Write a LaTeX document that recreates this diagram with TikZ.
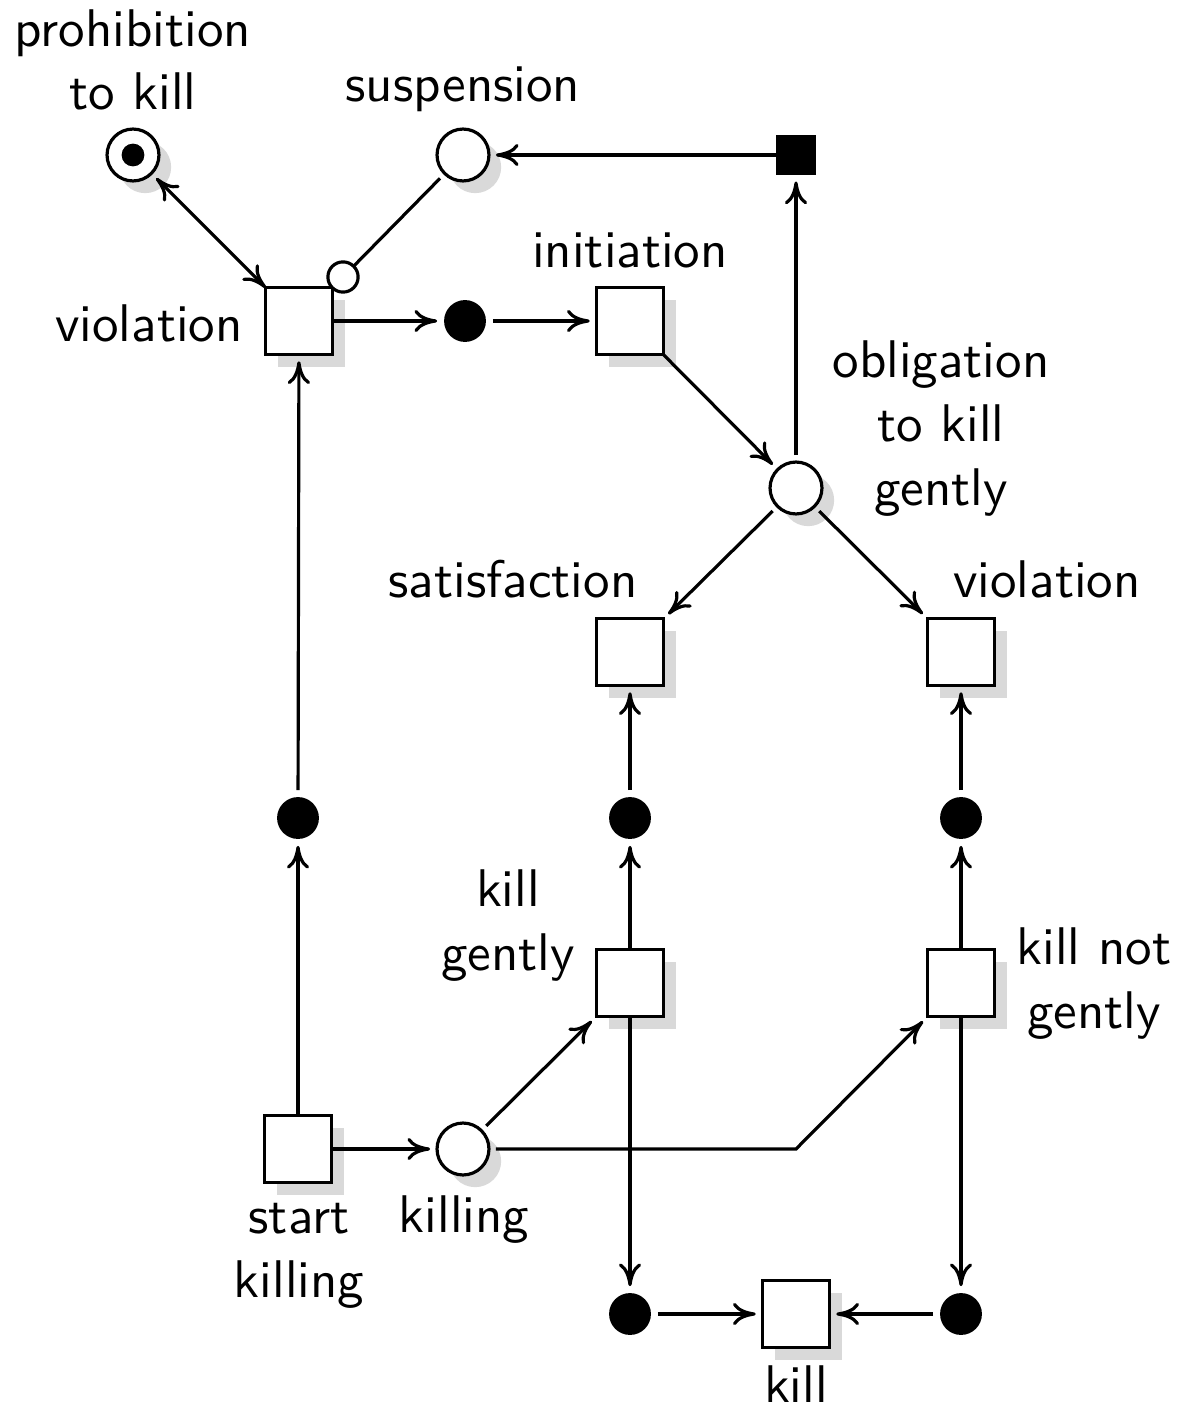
\documentclass[tikz,border=0pt]{standalone}
\usetikzlibrary{shadows,arrows.meta}
\begin{document}
\begin{tikzpicture}[x=0.1887pt,y=-0.1887pt,line width=0.6pt,font=\sffamily,
  >={To[length=4.3pt,width=4.2pt]},
  shd/.style={drop shadow={shadow xshift=2.3pt,shadow yshift=-2.3pt,fill=black!15,opacity=1}},
  place/.style={circle,draw,fill=white,minimum size=9.8pt,inner sep=0pt,outer sep=1.3pt,shd},
  bplace/.style={circle,fill=black,minimum size=7.9pt,inner sep=0pt,outer sep=1.3pt},
  trans/.style={rectangle,draw,fill=white,minimum size=12.6pt,inner sep=0pt,outer sep=0pt,shd},
  bsq/.style={rectangle,fill=black,minimum size=7.4pt,inner sep=0pt,outer sep=0pt},
  tok/.style={circle,fill=black,minimum size=4.3pt,inner sep=0pt},
  inhib/.style={circle,draw,fill=white,minimum size=5.7pt,inner sep=0pt,outer sep=0pt},
  lbl/.style={align=center,inner sep=0pt,anchor=base},
  totr/.style={->,shorten >=1.3pt}]
\useasboundingbox (0,0) rectangle (1193,1405);
% places and transitions
\node[place] (P1) at (133,155) {};
\node[tok] (tk) at (133,155) {};
\node[place] (S) at (463,155) {};
\node[bsq] (B) at (796,155) {};
\node[trans] (V1) at (299,321) {};
\node[inhib] (inh) at (343,277) {};
\node[bplace] (b1) at (465,321) {};
\node[trans] (Ti) at (630,321) {};
\node[place] (O) at (796,488) {};
\node[trans] (Ts) at (630,652) {};
\node[trans] (Tv) at (961,652) {};
\node[bplace] (b2) at (298,818) {};
\node[bplace] (b3) at (630,818) {};
\node[bplace] (b4) at (961,818) {};
\node[trans] (Tkg) at (630,983) {};
\node[trans] (Tkn) at (961,983) {};
\node[trans] (Tsk) at (298,1149) {};
\node[place] (K) at (463,1149) {};
\coordinate (bend) at (796,1149);
\node[bplace] (b5) at (630,1314) {};
\node[bplace] (b6) at (961,1314) {};
\node[trans] (Tk) at (796,1314) {};
% labels (anchor = baseline of last line)
\node[lbl] (lP1) at (133,110) {prohibition\\to kill};
\node[lbl] (lS) at (463,102) {suspension};
\node[lbl] (lV1) at (149,341) {violation};
\node[lbl] (lTi) at (630,267) {initiation};
\node[lbl] (lO) at (941,505) {obligation\\to kill\\gently};
\node[lbl] (lTs) at (513,597) {satisfaction};
\node[lbl] (lTv) at (1047,597) {violation};
\node[lbl] (lTkg) at (508,970) {kill\\gently};
\node[lbl] (lTkn) at (1094,1028) {kill not\\gently};
\node[lbl] (lTsk) at (299,1297) {start\\killing};
\node[lbl] (lK) at (464,1232) {killing};
\node[lbl] (lTk) at (796,1402) {kill};
% arcs
\draw[<->] (P1) -- (V1);
\draw (S) -- (inh);
\draw[->] (V1) -- (b1);
\draw[totr] (b1) -- (Ti);
\draw[->] (Ti) -- (O);
\draw[totr] (O) -- (B);
\draw[->] (B) -- (S);
\draw[totr] (O) -- (Ts);
\draw[totr] (O) -- (Tv);
\draw[->] (Tsk) -- (b2);
\draw[totr] (b2) -- (V1);
\draw[->] (Tsk) -- (K);
\draw[totr] (K) -- (Tkg);
\draw[totr] (K) -- (bend) -- (Tkn);
\draw[->] (Tkg) -- (b3);
\draw[totr] (b3) -- (Ts);
\draw[->] (Tkn) -- (b4);
\draw[totr] (b4) -- (Tv);
\draw[->] (Tkg) -- (b5);
\draw[totr] (b5) -- (Tk);
\draw[->] (Tkn) -- (b6);
\draw[totr] (b6) -- (Tk);
\end{tikzpicture}
\end{document}
